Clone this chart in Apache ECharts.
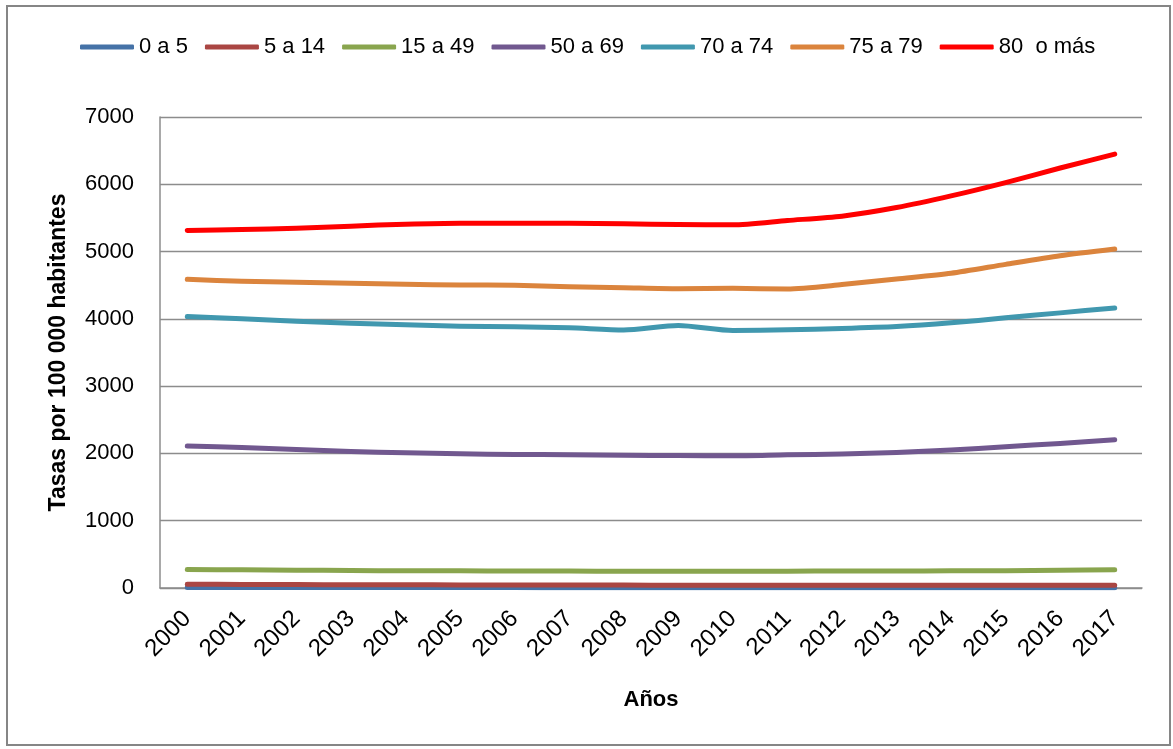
<!DOCTYPE html>
<html>
<head>
<meta charset="utf-8">
<script src="https://cdn.jsdelivr.net/npm/echarts@6/dist/echarts.min.js"></script>
<style>
  html, body { margin: 0; padding: 0; background: #fff; }
  #chart { width: 1173px; height: 749px; }
</style>
</head>
<body>
<div id="chart"></div>
<script>
// Años y tasas por grupo de edad (por 100 000 habitantes)
const years = ['2000','2001','2002','2003','2004','2005','2006','2007','2008',
               '2009','2010','2011','2012','2013','2014','2015','2016','2017'];

const seriesNames = ['0 a 5', '5 a 14', '15 a 49', '50 a 69', '70 a 74', '75 a 79', '80  o más'];

const g0a5   = [8, 8, 7, 7, 6, 6, 6, 5, 5, 5, 5, 5, 4, 4, 4, 4, 3, 3];
const g5a14  = [55, 53, 51, 49, 47, 46, 45, 44, 43, 42, 42, 41, 41, 41, 40, 40, 40, 40];
const g15a49 = [275, 270, 265, 260, 256, 255, 253, 251, 250, 250, 250, 250, 252, 254, 255, 258, 265, 272];
const g50a69 = [2109, 2089, 2060, 2030, 2010, 1995, 1985, 1980, 1972, 1970, 1965, 1980, 1990, 2015, 2050, 2100, 2149, 2204];
const g70a74 = [4035, 4000, 3965, 3936, 3911, 3891, 3881, 3867, 3835, 3901, 3827, 3837, 3857, 3886, 3941, 4015, 4089, 4163];
const g75a79 = [4588, 4558, 4543, 4528, 4514, 4504, 4499, 4479, 4464, 4449, 4454, 4444, 4509, 4593, 4677, 4810, 4938, 5037];
const g80    = [5314, 5328, 5348, 5378, 5407, 5422, 5422, 5422, 5412, 5402, 5398, 5462, 5526, 5654, 5827, 6025, 6242, 6449];

const yTicks = [0, 1000, 2000, 3000, 4000, 5000, 6000, 7000];

const values = [g0a5, g5a14, g15a49, g50a69, g70a74, g75a79, g80];
const colors = ['#4572A7', '#AA4643', '#89A54E', '#71588F', '#4198AF', '#DB843D', '#FF0000'];

const FONT = '"Liberation Sans", Arial, sans-serif';
const axisGray = '#8C8C8C';

const chart = echarts.init(document.getElementById('chart'), null, { renderer: 'canvas' });

chart.setOption({
  backgroundColor: '#ffffff',
  animation: false,
  graphic: [{
    type: 'rect',
    shape: { x: 7, y: 6, width: 1163, height: 739 },
    style: { fill: 'none', stroke: '#868686', lineWidth: 2 },
    silent: true,
    z: 0
  }],
  legend: {
    left: 75,
    top: 31,
    itemWidth: 54,
    itemHeight: 5,
    itemGap: 17,
    icon: 'roundRect',
    textStyle: { fontFamily: FONT, fontSize: 22, color: '#000' },
    data: seriesNames
  },
  grid: { left: 160, right: 31, top: 117, bottom: 161, containLabel: false },
  xAxis: {
    type: 'category',
    data: years,
    boundaryGap: true,
    name: 'Años',
    nameLocation: 'middle',
    nameGap: 101,
    nameTextStyle: { fontFamily: FONT, fontSize: 22, fontWeight: 'bold', color: '#000' },
    axisLine: { show: true, lineStyle: { color: axisGray, width: 1.5 } },
    axisTick: { show: false },
    axisLabel: { rotate: 45, margin: 27, fontFamily: FONT, fontSize: 24, color: '#000', interval: 0 }
  },
  yAxis: {
    type: 'value',
    min: yTicks[0],
    max: yTicks[yTicks.length - 1],
    interval: 1000,
    name: 'Tasas por 100 000 habitantes',
    nameLocation: 'middle',
    nameGap: 90,
    nameTextStyle: { fontFamily: FONT, fontSize: 23, fontWeight: 'bold', color: '#000' },
    axisLine: { show: true, lineStyle: { color: axisGray, width: 1.5 } },
    axisTick: { show: false },
    axisLabel: { margin: 26, fontFamily: FONT, fontSize: 22, color: '#000', formatter: v => String(v) },
    splitLine: { show: true, lineStyle: { color: axisGray, width: 1.3 } }
  },
  series: seriesNames.map((name, i) => ({
    name: name,
    type: 'line',
    data: values[i],
    smooth: 0.25,
    showSymbol: false,
    symbol: 'none',
    color: colors[i],
    lineStyle: { width: 5, color: colors[i], cap: 'round', join: 'round' },
    z: 2 + i
  }))
});
</script>
</body>
</html>
